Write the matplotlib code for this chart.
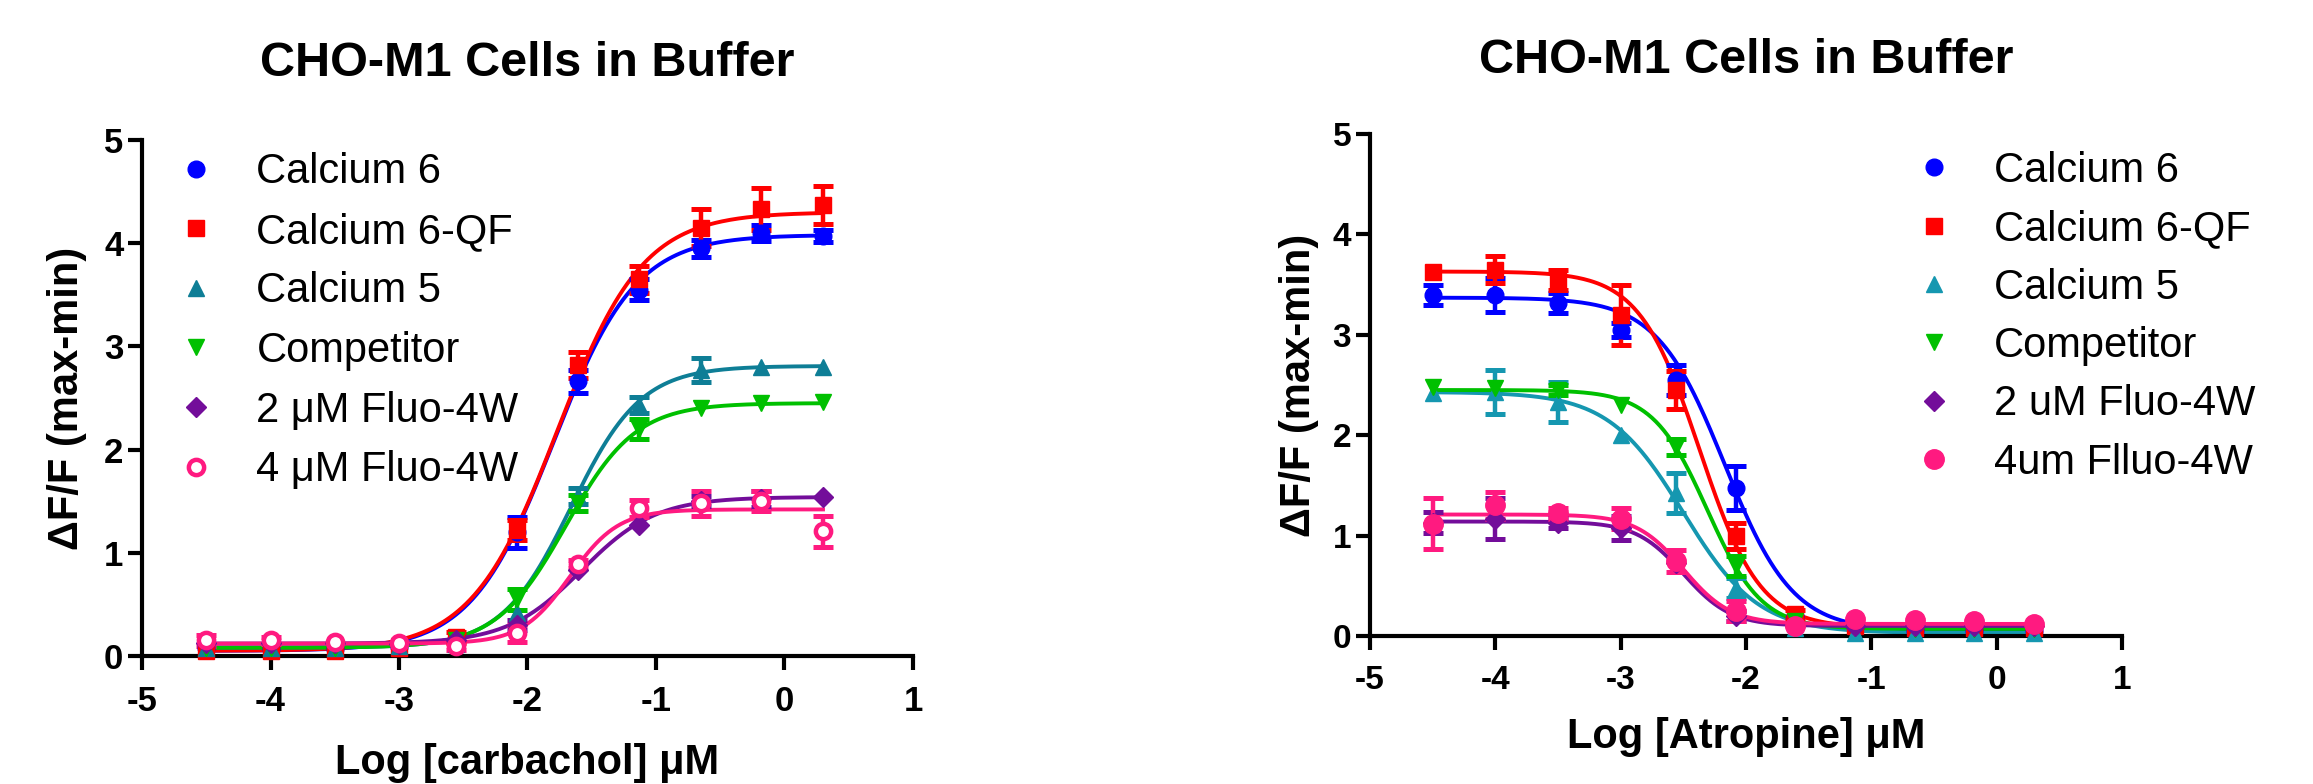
import numpy as np
import matplotlib
matplotlib.use("Agg")
import matplotlib.pyplot as plt
from matplotlib.lines import Line2D

plt.rcParams['font.family'] = ['Liberation Sans', 'DejaVu Sans']
plt.rcParams['axes.unicode_minus'] = False

# log concentration of each well (same for both panels)
log_conc = [-4.5, -4.0, -3.5, -3.0, -2.56, -2.08, -1.61, -1.13, -0.65, -0.18, 0.30]

# ---- carbachol (left) ----
carb_ca6 = [0.08, 0.07, 0.07, 0.09, 0.15, 1.20, 2.66, 3.55, 3.95, 4.10, 4.07]
carb_ca6_err = [0, 0, 0, 0, 0, 0.15, 0.11, 0.10, 0.08, 0.08, 0.06]
carb_qf = [0.05, 0.05, 0.05, 0.08, 0.18, 1.22, 2.82, 3.65, 4.15, 4.33, 4.37]
carb_qf_err = [0, 0, 0, 0, 0.05, 0.10, 0.13, 0.13, 0.18, 0.20, 0.18]
carb_ca5 = [0.08, 0.08, 0.08, 0.10, 0.12, 0.42, 1.55, 2.43, 2.77, 2.80, 2.80]
carb_ca5_err = [0, 0, 0, 0, 0, 0, 0.08, 0.08, 0.12, 0, 0]
carb_comp = [0.08, 0.08, 0.08, 0.10, 0.15, 0.55, 1.48, 2.20, 2.40, 2.45, 2.46]
carb_comp_err = [0, 0, 0, 0, 0, 0.10, 0.08, 0.10, 0, 0, 0]
carb_f2 = [0.13, 0.13, 0.13, 0.12, 0.15, 0.30, 0.83, 1.27, 1.50, 1.52, 1.54]
carb_f2_err = [0, 0, 0, 0, 0, 0.05, 0, 0, 0.05, 0.08, 0]
carb_f4 = [0.15, 0.15, 0.14, 0.13, 0.10, 0.22, 0.89, 1.43, 1.48, 1.50, 1.21]
carb_f4_err = [0.05, 0.03, 0, 0, 0.04, 0.08, 0.04, 0.08, 0.12, 0.10, 0.15]

# ---- atropine (right) ----
atr_ca6 = [3.40, 3.40, 3.32, 3.05, 2.55, 1.47, 0.20, 0.10, 0.05, 0.05, 0.05]
atr_ca6_err = [0.10, 0.17, 0.10, 0.07, 0.15, 0.22, 0, 0, 0, 0, 0]
atr_qf = [3.63, 3.65, 3.55, 3.20, 2.45, 1.00, 0.22, 0.10, 0.08, 0.08, 0.08]
atr_qf_err = [0, 0.13, 0.10, 0.30, 0.19, 0.13, 0.04, 0, 0, 0, 0]
atr_ca5 = [2.42, 2.43, 2.33, 2.00, 1.42, 0.48, 0.08, 0.03, 0.03, 0.03, 0.03]
atr_ca5_err = [0, 0.22, 0.20, 0, 0.20, 0.10, 0, 0, 0, 0, 0]
atr_comp = [2.48, 2.47, 2.45, 2.30, 1.88, 0.70, 0.15, 0.08, 0.07, 0.07, 0.07]
atr_comp_err = [0, 0, 0.05, 0, 0.08, 0.10, 0, 0, 0, 0, 0]
atr_f2 = [1.13, 1.17, 1.13, 1.08, 0.73, 0.20, 0.10, 0.10, 0.10, 0.10, 0.10]
atr_f2_err = [0.10, 0.20, 0.05, 0.12, 0, 0.05, 0, 0, 0, 0, 0]
atr_f4 = [1.12, 1.30, 1.22, 1.17, 0.75, 0.25, 0.10, 0.17, 0.16, 0.15, 0.12]
atr_f4_err = [0.25, 0.13, 0.05, 0.10, 0.11, 0.10, 0, 0, 0, 0, 0]

# 4PL fit parameters: bottom, top, logEC50, hill
carb_fits = [(0.05, 4.08, -1.80, 1.35), (0.05, 4.30, -1.77, 1.30), (0.08, 2.81, -1.66, 1.6),
             (0.08, 2.45, -1.70, 1.6), (0.12, 1.54, -1.58, 1.5), (0.12, 1.42, -1.67, 2.3)]
atr_fits = [(0.05, 3.37, -2.17, -1.6), (0.08, 3.63, -2.37, -1.8), (0.03, 2.43, -2.50, -1.45),
            (0.07, 2.45, -2.31, -2.0), (0.10, 1.14, -2.50, -2.3), (0.12, 1.21, -2.50, -2.3)]

left_labels = ["Calcium 6", "Calcium 6-QF", "Calcium 5", "Competitor",
               "2 \u03bcM Fluo-4W", "4 \u03bcM Fluo-4W"]
right_labels = ["Calcium 6", "Calcium 6-QF", "Calcium 5", "Competitor",
                "2 uM Fluo-4W", "4um Flluo-4W"]


def four_pl(x, bottom, top, logec50, hill):
    return bottom + (top - bottom) / (1 + 10 ** ((logec50 - x) * hill))


def draw_panel(ax, series, fits, styles, labels, xlabel, legend_xy, spacing,
               ticksize, title_pad, xlabel_pad, ylabel_pad):
    xs = np.array(log_conc)
    xfine = np.linspace(xs[0], xs[-1], 300)
    handles = []
    for (ys, errs), fit, st, lab in zip(series, fits, styles, labels):
        ys = np.array(ys)
        errs = np.array(errs)
        col = st['color']
        ax.plot(xfine, four_pl(xfine, *fit), color=col, lw=2.8, zorder=2)
        m = errs > 0
        if m.any():
            ax.errorbar(xs[m], ys[m], yerr=errs[m], fmt='none', ecolor=col,
                        elinewidth=3.2, capsize=7, capthick=3.6, zorder=3)
        mfc = st.get('mfc', col)
        ax.plot(xs, ys, ls='none', marker=st['marker'], ms=st['ms'], color=col,
                mfc=mfc, mec=col, mew=st.get('mew', 1), zorder=4, clip_on=False)
        handles.append(Line2D([], [], ls='none', marker=st['marker'], ms=st['ms'],
                              color=col, mfc=mfc, mec=col, mew=st.get('mew', 1), label=lab))

    ax.set_xlim(-5, 1)
    ax.set_ylim(0, 5)
    ax.set_xticks(range(-5, 2))
    ax.set_yticks(range(0, 6))
    for side in ['top', 'right']:
        ax.spines[side].set_visible(False)
    for side in ['left', 'bottom']:
        ax.spines[side].set_linewidth(3)
    ax.tick_params(width=3, length=10, labelsize=ticksize)
    ax.tick_params(axis='x', pad=11)
    ax.tick_params(axis='y', pad=3.5)
    for t in ax.get_xticklabels() + ax.get_yticklabels():
        t.set_fontweight('bold')
    ax.set_xlabel(xlabel, fontsize=30, fontweight='bold', labelpad=xlabel_pad)
    ax.set_ylabel("\u0394F/F (max-min)", fontsize=30, fontweight='bold', labelpad=ylabel_pad)
    ax.set_title("CHO-M1 Cells in Buffer", fontsize=35, fontweight='bold', pad=title_pad)
    ax.legend(handles=handles, loc='upper left', bbox_to_anchor=legend_xy, frameon=False,
              fontsize=30, handlelength=1.0, handletextpad=0.95, borderpad=0,
              borderaxespad=0, labelspacing=spacing)


fig = plt.figure(figsize=(23.13, 7.84), dpi=100)
ax1 = fig.add_axes([0.0614, 0.1633, 0.3333, 0.6582])
ax2 = fig.add_axes([0.5923, 0.1888, 0.3251, 0.6403])

left_styles = [
    dict(color='#0000FF', marker='o', ms=12),
    dict(color='#FF0000', marker='s', ms=11),
    dict(color='#0E7E96', marker='^', ms=12),
    dict(color='#00C000', marker='v', ms=12),
    dict(color='#730D9A', marker='D', ms=10),
    dict(color='#FF1A80', marker='o', ms=11, mfc='white', mew=3.2),
]
right_styles = [
    dict(color='#0000FF', marker='o', ms=12),
    dict(color='#FF0000', marker='s', ms=11),
    dict(color='#1597B0', marker='^', ms=12),
    dict(color='#00C000', marker='v', ms=12),
    dict(color='#730D9A', marker='D', ms=10),
    dict(color='#FF1A80', marker='o', ms=14),
]

left_series = [(carb_ca6, carb_ca6_err), (carb_qf, carb_qf_err), (carb_ca5, carb_ca5_err),
               (carb_comp, carb_comp_err), (carb_f2, carb_f2_err), (carb_f4, carb_f4_err)]
right_series = [(atr_ca6, atr_ca6_err), (atr_qf, atr_qf_err), (atr_ca5, atr_ca5_err),
                (atr_comp, atr_comp_err), (atr_f2, atr_f2_err), (atr_f4, atr_f4_err)]

draw_panel(ax1, left_series, carb_fits, left_styles, left_labels,
           "Log [carbachol] \u03bcM", (0.043, 0.976), 0.47,
           ticksize=25, title_pad=46, xlabel_pad=18, ylabel_pad=12)
draw_panel(ax2, right_series, atr_fits, right_styles, right_labels,
           "Log [Atropine] \u03bcM", (0.722, 0.966), 0.44,
           ticksize=24, title_pad=44, xlabel_pad=15, ylabel_pad=10)

fig.savefig("out.png", dpi=100)
